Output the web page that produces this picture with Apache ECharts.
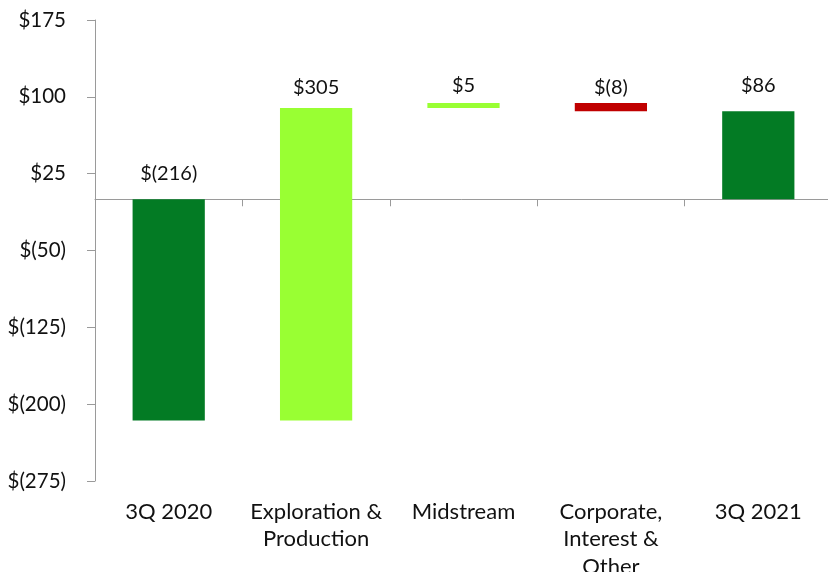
<!DOCTYPE html>
<html>
<head>
<meta charset="utf-8">
<script src="https://cdn.jsdelivr.net/npm/echarts@6/dist/echarts.min.js"></script>
<style>
html,body{margin:0;padding:0;background:#fff;}
#chart{width:828px;height:572px;}
</style>
</head>
<body>
<div id="chart"></div>
<script>
// ---- data ----
const categories = ['3Q 2020', 'Exploration &\nProduction', 'Midstream', 'Corporate,\nInterest &\nOther', '3Q 2021'];
const changes = [-216, 305, 5, -8, 86];
const isTotal = [true, false, false, false, true];
const yTicks = [-275, -200, -125, -50, 25, 100, 175];

// ---- layout / style ----
const labelGap = [26, 21, 17, 15, 26];
const COLORS = { total: '#037b24', up: '#99ff33', down: '#c00000' };
const FONT = 'Lato';
const AXIS_GRAY = '#9a9a9a';

function money(v) { return v < 0 ? '$(' + (-v) + ')' : '$' + v; }

// build waterfall ranges
const rows = [];
let running = 0;
changes.forEach((v, i) => {
  let start, end, color;
  if (isTotal[i]) { start = 0; end = v; running = v; color = COLORS.total; }
  else { start = running; end = running + v; running = end; color = v >= 0 ? COLORS.up : COLORS.down; }
  rows.push({ value: [i, start, end, v], itemStyle: { color } });
});

const chart = echarts.init(document.getElementById('chart'));
chart.setOption({
  animation: false,
  grid: { left: 95, top: 20, width: 737, height: 461, containLabel: false, outerBoundsMode: 'none' },
  xAxis: [
    {
      type: 'category', data: categories,
      axisLine: { onZero: true, lineStyle: { color: AXIS_GRAY, width: 1 } },
      axisTick: { show: true, length: 7, lineStyle: { color: AXIS_GRAY } },
      axisLabel: { show: false }
    },
    {
      type: 'category', data: categories, position: 'bottom',
      axisLine: { show: false, onZero: false },
      axisTick: { show: false },
      axisLabel: { interval: 0, hideOverlap: false, fontFamily: FONT, fontSize: 22, color: '#111', lineHeight: 27.5, margin: 17 }
    }
  ],
  yAxis: {
    type: 'value', min: yTicks[0], max: yTicks[yTicks.length - 1], interval: 75,
    axisLine: { show: true, lineStyle: { color: AXIS_GRAY, width: 1 } },
    axisTick: { show: true, length: 8, lineStyle: { color: AXIS_GRAY } },
    splitLine: { show: false },
    axisLabel: { fontFamily: FONT, fontSize: 20.5, color: '#111', margin: 29, formatter: money }
  },
  series: [{
    type: 'custom',
    xAxisIndex: 0,
    encode: { x: 0, y: [1, 2] },
    data: rows,
    renderItem: function (params, api) {
      const i = api.value(0);
      const s = api.value(1), e = api.value(2), v = api.value(3);
      const p0 = api.coord([i, s]);
      const p1 = api.coord([i, e]);
      const w = api.size([1, 0])[0] * 0.49;
      const top = Math.min(p0[1], p1[1]);
      const bot = Math.max(p0[1], p1[1]);
      const color = api.visual('color');
      return {
        type: 'group',
        children: [
          { type: 'rect', shape: { x: p0[0] - w / 2, y: top, width: w, height: bot - top }, style: { fill: color } },
          { type: 'text', x: p0[0], y: top - labelGap[i],
            style: { text: money(v), fontFamily: FONT, fontSize: 20, fill: '#111', align: 'center', verticalAlign: 'middle' } }
        ]
      };
    }
  }]
});
</script>
</body>
</html>
